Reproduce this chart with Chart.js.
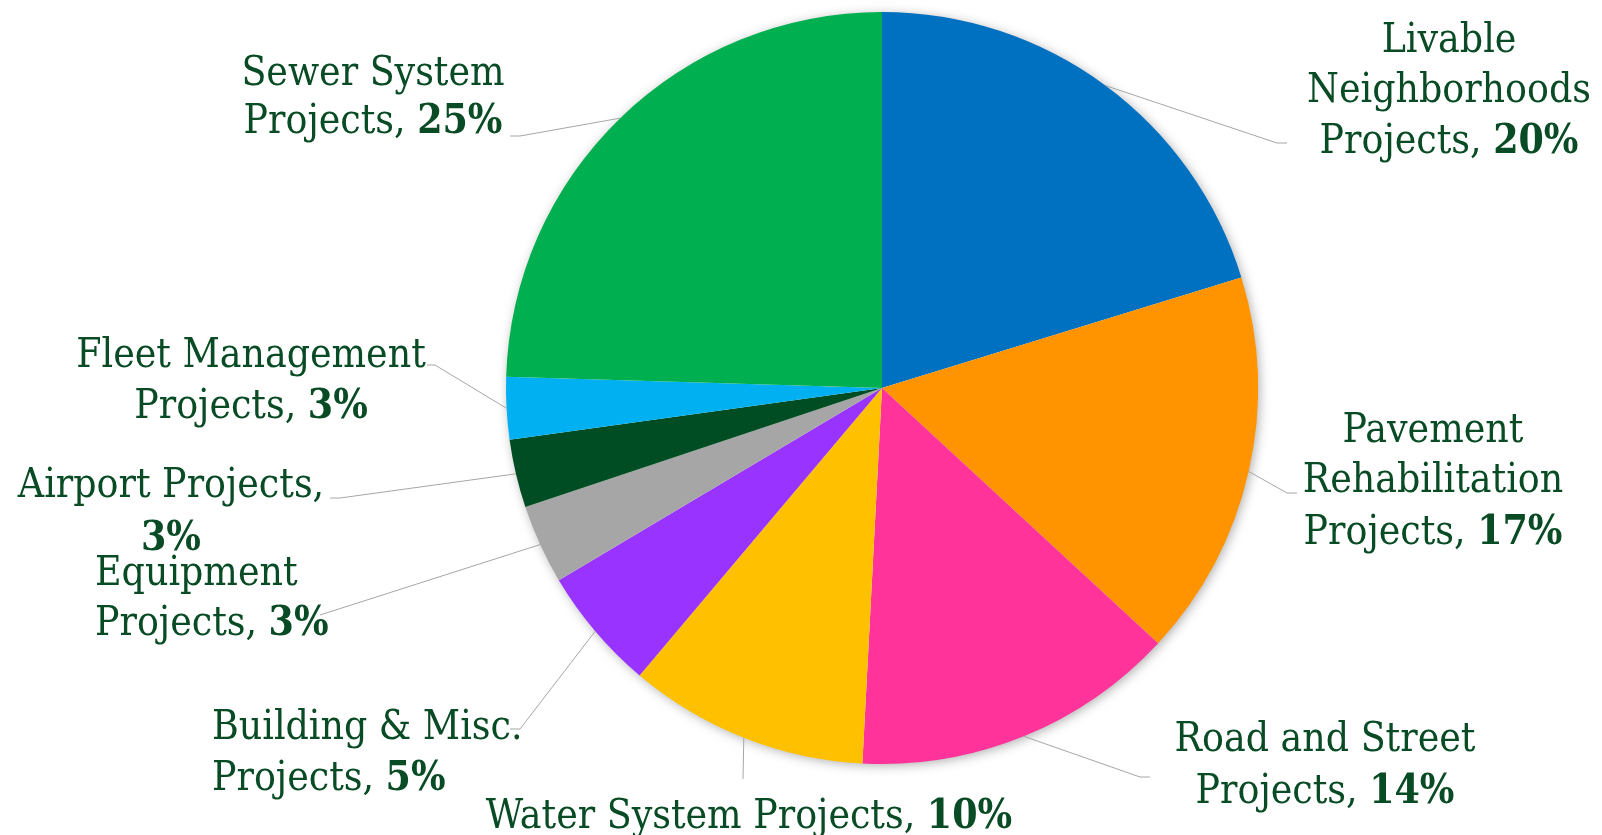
<!DOCTYPE html>
<html>
<head>
<meta charset="utf-8">
<script src="https://cdn.jsdelivr.net/npm/chart.js@4/dist/chart.umd.min.js"></script>
<style>
  html, body { margin: 0; padding: 0; background: #fff; }
  #wrap { width: 1602px; height: 835px; }
</style>
</head>
<body>
<div id="wrap"><canvas id="chart" width="1602" height="835"></canvas></div>
<script>
// ── Data (clockwise from 12 o'clock) ──
const categories = [
  'Livable Neighborhoods Projects',
  'Pavement Rehabilitation Projects',
  'Road and Street Projects',
  'Water System Projects',
  'Building & Misc. Projects',
  'Equipment Projects',
  'Airport Projects',
  'Fleet Management Projects',
  'Sewer System Projects'
];
const shares = [20.25, 16.62, 13.96, 10.32, 5.31, 3.41, 2.93, 2.68, 24.52];

// label text as it is broken over lines (percent is appended to the last line)
const labelLines = [
  ['Livable', 'Neighborhoods', 'Projects, '],
  ['Pavement', 'Rehabilitation', 'Projects, '],
  ['Road and Street', 'Projects, '],
  ['Water System Projects, '],
  ['Building & Misc.', 'Projects, '],
  ['Equipment', 'Projects, '],
  ['Airport Projects,', ''],
  ['Fleet Management', 'Projects, '],
  ['Sewer System', 'Projects, ']
];

const colors = ['#0070C0', '#FF9300', '#FF3399', '#FFC000', '#9933FF',
                '#A6A6A6', '#004C23', '#00B0F0', '#00B050'];

// ── Label placement, in px relative to the pie centre ──
// x: anchor x (centre or left edge), base: baselines, elbow/end: leader line
const placement = [
  { align: 'center', x: 567, base: [-336, -286, -235], elbow: [395, -245], end: [405, -245] },
  { align: 'center', x: 551, base: [54, 104, 156],     elbow: [405, 105],  end: [415, 105] },
  { align: 'center', x: 443, base: [363, 415],         elbow: [258, 389],  end: [268, 389] },
  { align: 'center', x: -133, base: [440],             elbow: [-139, 391], end: [-139, 391] },
  { align: 'left',   x: -670, base: [351, 402],        elbow: [-362, 341], end: [-372, 341] },
  { align: 'left',   x: -787, base: [197, 247],        elbow: [-562, 227], end: [-562, 227] },
  { align: 'center', x: -711, base: [109, 162],        elbow: [-542, 110], end: [-552, 110] },
  { align: 'center', x: -631, base: [-21, 30],         elbow: [-447, -23], end: [-455, -23] },
  { align: 'center', x: -509, base: [-303, -255],      elbow: [-362, -252], end: [-372, -252] }
];

const FONT_FAMILY = '"DejaVu Serif Condensed", "DejaVu Serif", serif';
const FONT_SIZE   = 40.5;
const TEXT_COLOR  = '#084B24';
const LINE_COLOR  = '#A6A6A6';

const total = shares.reduce((a, b) => a + b, 0);

// soft shadow under the whole pie
const pieShadow = {
  id: 'pieShadow',
  beforeDatasetsDraw(chart) {
    const arc = chart.getDatasetMeta(0).data[0];
    if (!arc) return;
    const ctx = chart.ctx;
    ctx.save();
    ctx.shadowColor   = 'rgba(0,0,0,0.35)';
    ctx.shadowBlur    = 12;
    ctx.shadowOffsetX = 2;
    ctx.shadowOffsetY = 2;
    ctx.beginPath();
    ctx.arc(arc.x, arc.y, arc.outerRadius - 1, 0, Math.PI * 2);
    ctx.fillStyle = '#fff';
    ctx.fill();
    ctx.restore();
  }
};

// data labels with leader lines
const pieLabels = {
  id: 'pieLabels',
  afterDatasetsDraw(chart) {
    const ctx  = chart.ctx;
    const meta = chart.getDatasetMeta(0);
    const normal = FONT_SIZE + 'px ' + FONT_FAMILY;
    const bold   = 'bold ' + FONT_SIZE + 'px ' + FONT_FAMILY;

    meta.data.forEach((arc, i) => {
      const p   = placement[i];
      const cx  = arc.x, cy = arc.y;
      const mid = (arc.startAngle + arc.endAngle) / 2;
      const sx  = cx + Math.cos(mid) * arc.outerRadius;
      const sy  = cy + Math.sin(mid) * arc.outerRadius;

      // leader line
      ctx.save();
      ctx.strokeStyle = LINE_COLOR;
      ctx.lineWidth = 1;
      ctx.beginPath();
      ctx.moveTo(sx, sy);
      ctx.lineTo(cx + p.elbow[0], cy + p.elbow[1]);
      ctx.lineTo(cx + p.end[0], cy + p.end[1]);
      ctx.stroke();
      ctx.restore();

      // text
      const pct   = Math.round(shares[i] / total * 100) + '%';
      const lines = labelLines[i];
      ctx.save();
      ctx.fillStyle = TEXT_COLOR;
      ctx.textBaseline = 'alphabetic';
      ctx.textAlign = 'left';
      lines.forEach((txt, k) => {
        const last = k === lines.length - 1;
        ctx.font = normal;
        const w1 = ctx.measureText(txt).width;
        ctx.font = bold;
        const w2 = last ? ctx.measureText(pct).width : 0;
        const w  = w1 + w2;
        let x0 = cx + p.x;
        if (p.align === 'center') x0 -= w / 2;
        const y = cy + p.base[k];
        ctx.font = normal;
        ctx.fillText(txt, x0, y);
        if (last) {
          ctx.font = bold;
          ctx.fillText(pct, x0 + w1, y);
        }
      });
      ctx.restore();
    });
  }
};

new Chart(document.getElementById('chart'), {
  type: 'pie',
  data: {
    labels: categories,
    datasets: [{
      data: shares,
      backgroundColor: colors,
      borderWidth: 0,
      hoverOffset: 0
    }]
  },
  options: {
    responsive: false,
    animation: false,
    devicePixelRatio: 1,
    layout: { padding: { left: 506, right: 344, top: 12, bottom: 71 } },
    plugins: {
      legend:  { display: false },
      tooltip: { enabled: false }
    }
  },
  plugins: [pieShadow, pieLabels]
});
</script>
</body>
</html>
